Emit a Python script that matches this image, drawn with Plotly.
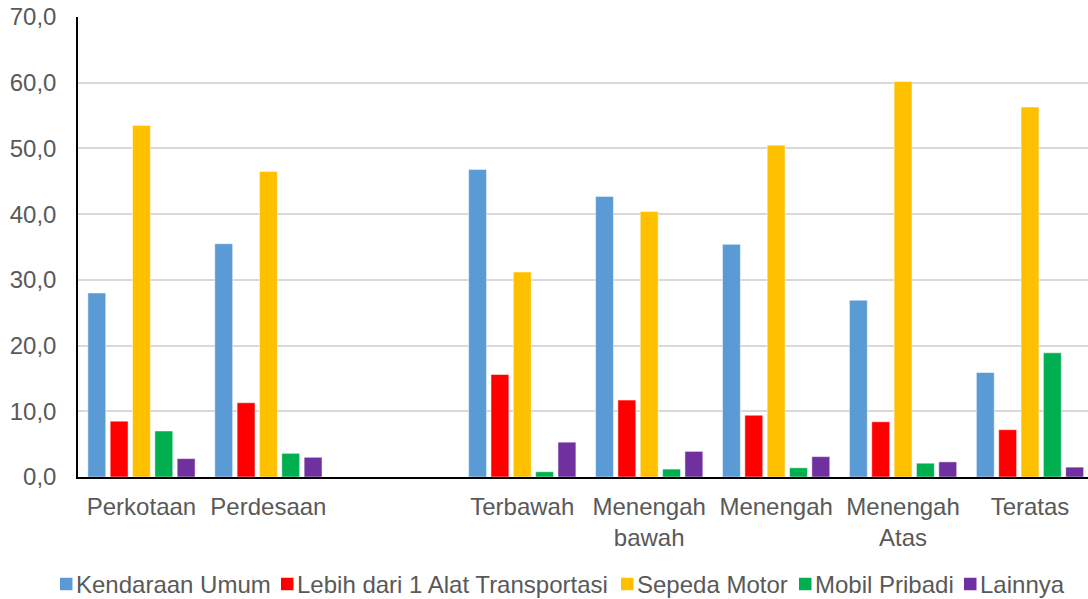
import plotly.graph_objects as go

# Kategori (slot kosong memisahkan wilayah dan kelompok pengeluaran)
categories = ["Perkotaan", "Perdesaan", "", "Terbawah", "Menengah<br>bawah",
              "Menengah", "Menengah<br>Atas", "Teratas"]

series_names = ["Kendaraan Umum", "Lebih dari 1 Alat Transportasi",
                "Sepeda Motor", "Mobil Pribadi", "Lainnya"]

kendaraan_umum = [28.0, 35.5, None, 46.8, 42.7, 35.4, 26.9, 15.9]
lebih_dari_1 = [8.5, 11.3, None, 15.6, 11.7, 9.4, 8.4, 7.2]
sepeda_motor = [53.5, 46.5, None, 31.2, 40.4, 50.5, 60.2, 56.3]
mobil_pribadi = [7.0, 3.6, None, 0.8, 1.2, 1.4, 2.1, 18.9]
lainnya = [2.8, 3.0, None, 5.3, 3.9, 3.1, 2.3, 1.5]

y_ticks = [0, 10, 20, 30, 40, 50, 60, 70]

colors = ["#5B9BD5", "#FF0000", "#FFC000", "#00B050", "#7030A0"]
values = [kendaraan_umum, lebih_dari_1, sepeda_motor, mobil_pribadi, lainnya]

FONT = "Liberation Sans, Arial, sans-serif"
GREY = "#595959"
FS = 24

W, H = 1088, 599
ML, MR, MT, MB = 78, 0, 17, 122
plot_w = W - ML - MR
plot_h = H - MT - MB

x_pos = list(range(len(categories)))

fig = go.Figure()
for name, vals, col in zip(series_names, values, colors):
    fig.add_trace(go.Bar(
        x=x_pos, y=vals, name=name,
        marker=dict(color=col, line=dict(color="rgba(255,255,255,0.6)", width=0.8)),
        showlegend=False,
    ))

# Legenda di bawah grafik: kotak warna + teks
def paper_x(px):
    return (px - ML) / plot_w

def paper_y(py):
    return (H - MB - py) / plot_h

legend_x = [60, 281, 621, 799, 964]
legend_cy = 584
sq = 12.5
shapes = []
annotations = []
for lx, name, col in zip(legend_x, series_names, colors):
    shapes.append(dict(
        type="rect", xref="paper", yref="paper",
        x0=paper_x(lx), x1=paper_x(lx + sq),
        y0=paper_y(legend_cy + sq / 2), y1=paper_y(legend_cy - sq / 2),
        fillcolor=col, line=dict(width=0),
    ))
    annotations.append(dict(
        xref="paper", yref="paper",
        x=paper_x(lx + sq + 1), y=paper_y(legend_cy),
        xanchor="left", yanchor="middle",
        text=name, showarrow=False,
        font=dict(family=FONT, size=FS, color=GREY),
    ))

fig.update_layout(
    width=W, height=H,
    margin=dict(l=ML, r=MR, t=MT, b=MB, pad=0),
    paper_bgcolor="white", plot_bgcolor="white",
    barmode="group", bargap=0.12, bargroupgap=0.2,
    separators=",.",
    font=dict(family=FONT, size=FS, color=GREY),
    shapes=shapes, annotations=annotations,
    xaxis=dict(
        range=[-0.5, 7.457],
        tickmode="array", tickvals=x_pos, ticktext=categories,
        showgrid=False, zeroline=False,
        showline=True, linecolor="black", linewidth=1.5,
        ticks="", ticklabelstandoff=7,
        tickfont=dict(family=FONT, size=FS, color=GREY),
    ),
    yaxis=dict(
        range=[0, 70],
        tickmode="array", tickvals=y_ticks, tickformat=".1f",
        showgrid=True, gridcolor="#D9D9D9", gridwidth=1.5,
        zeroline=False,
        showline=True, linecolor="black", linewidth=1.5,
        ticks="", ticklabelstandoff=15,
        tickfont=dict(family=FONT, size=FS, color=GREY),
    ),
)

fig.write_html("out.html")
